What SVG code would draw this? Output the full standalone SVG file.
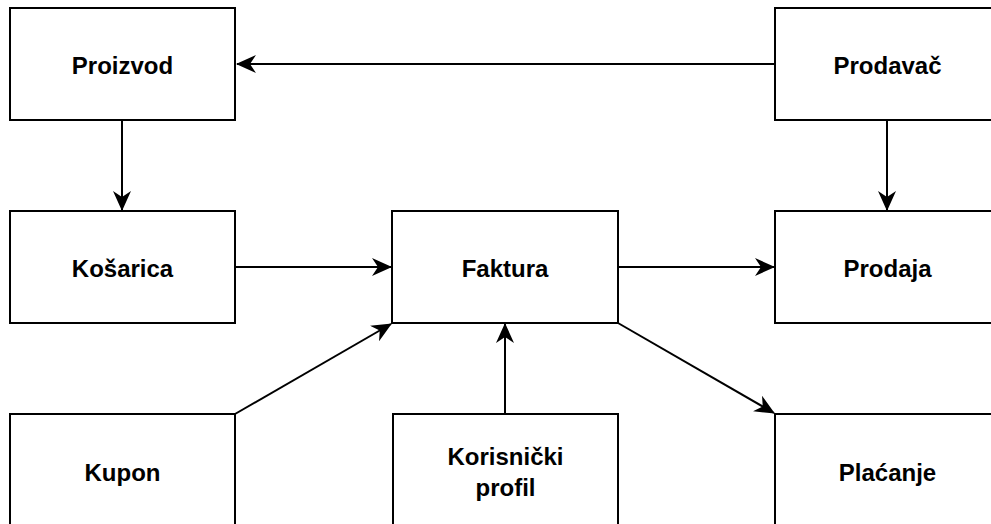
<svg xmlns="http://www.w3.org/2000/svg" width="991" height="524" viewBox="0 0 991 524">
<style>
.box{fill:#fff;stroke:#000;stroke-width:2}
.lbl{font-family:"Liberation Sans",Arial,Helvetica,sans-serif;font-weight:bold;font-size:24px;fill:#000;text-anchor:middle}
.edge{fill:none;stroke:#000;stroke-width:2;marker-end:url(#arr)}
</style>
<defs>
<marker id="arr" viewBox="0 0 20 18" refX="19" refY="9" markerWidth="20" markerHeight="18" markerUnits="userSpaceOnUse" orient="auto">
<path d="M20,9 L0,0 L6,9 L0,18 Z" fill="#000"/>
</marker>
</defs>
<rect width="991" height="524" fill="#fff"/>
<g id="connectors">
<line class="edge" x1="775" y1="64" x2="237" y2="64"/>
<line class="edge" x1="122" y1="120" x2="122" y2="210"/>
<line class="edge" x1="887" y1="120" x2="887" y2="210"/>
<line class="edge" x1="235" y1="267" x2="391" y2="267"/>
<line class="edge" x1="618" y1="267" x2="774" y2="267"/>
<line class="edge" x1="235" y1="414" x2="391" y2="324"/>
<line class="edge" x1="505" y1="414" x2="505" y2="324"/>
<line class="edge" x1="618" y1="323" x2="774" y2="413"/>
</g>
<g id="proizvod"><rect class="box" x="10" y="8" width="225" height="112"/><text class="lbl" x="122.5" y="74">Proizvod</text></g>
<g id="prodavac"><rect class="box" x="775" y="8" width="225" height="112"/><text class="lbl" x="887.5" y="74">Prodavač</text></g>
<g id="kosarica"><rect class="box" x="10" y="211" width="225" height="112"/><text class="lbl" x="122.5" y="277">Košarica</text></g>
<g id="faktura"><rect class="box" x="392" y="211" width="226" height="112"/><text class="lbl" x="505" y="277">Faktura</text></g>
<g id="prodaja"><rect class="box" x="775" y="211" width="225" height="112"/><text class="lbl" x="887.5" y="277">Prodaja</text></g>
<g id="kupon"><rect class="box" x="10" y="414" width="225" height="120"/><text class="lbl" x="122.5" y="480.5">Kupon</text></g>
<g id="korisnicki-profil"><rect class="box" x="393" y="414" width="225" height="120"/><text class="lbl" x="505.5" y="465">Korisnički</text><text class="lbl" x="505.5" y="496">profil</text></g>
<g id="placanje"><rect class="box" x="775" y="414" width="225" height="120"/><text class="lbl" x="887.5" y="480.5">Plaćanje</text></g>
</svg>
